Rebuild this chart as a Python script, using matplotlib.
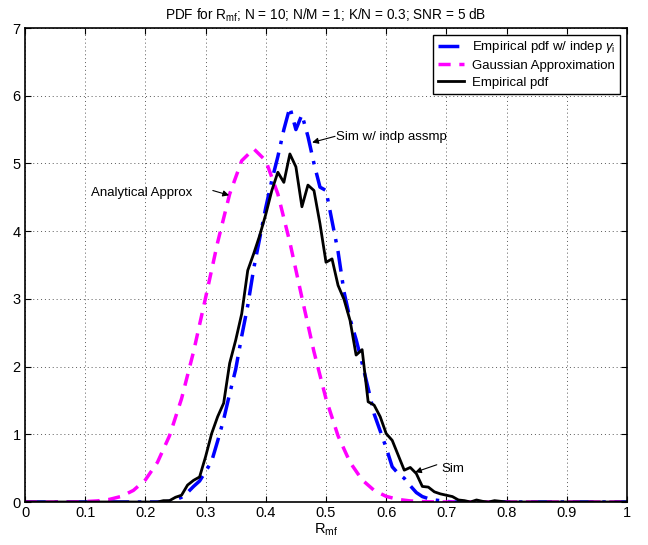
import matplotlib
matplotlib.use("Agg")
import matplotlib.pyplot as plt

plt.rcParams['font.family'] = ['Liberation Sans', 'DejaVu Sans']
plt.rcParams['mathtext.fontset'] = 'custom'
plt.rcParams['mathtext.rm'] = 'Liberation Sans'
plt.rcParams['mathtext.it'] = 'Liberation Sans:italic'

# Empirical pdf w/ indep gamma (blue dash-dot)
x_indep = [0.0, 0.23, 0.24, 0.25, 0.26, 0.27, 0.28, 0.29, 0.30, 0.31, 0.32, 0.33, 0.34, 0.35,
           0.36, 0.37, 0.38, 0.39, 0.40, 0.41, 0.42, 0.43, 0.44, 0.45, 0.46, 0.47, 0.48,
           0.49, 0.50, 0.51, 0.52, 0.53, 0.54, 0.55, 0.56, 0.57, 0.58, 0.59, 0.60, 0.61,
           0.62, 0.63, 0.64, 0.65, 0.66, 0.67, 0.68, 0.69, 0.70, 0.71, 1.0]
y_indep = [0.0, 0.0, 0.01, 0.03, 0.07, 0.14, 0.23, 0.31, 0.45, 0.60, 0.90, 1.22, 1.60, 1.96,
           2.45, 2.90, 3.45, 3.90, 4.35, 4.75, 5.10, 5.50, 5.83, 5.50, 5.72, 5.40, 5.00,
           4.65, 4.60, 4.15, 3.70, 3.10, 2.70, 2.40, 2.05, 1.68, 1.30, 1.05, 0.80, 0.52,
           0.42, 0.35, 0.24, 0.14, 0.08, 0.05, 0.03, 0.02, 0.01, 0.0, 0.0]

# Gaussian approximation (magenta dashed)
x_gauss = [0.0, 0.08, 0.10, 0.12, 0.14, 0.16, 0.18, 0.20, 0.22, 0.24, 0.26, 0.28, 0.30, 0.32,
           0.34, 0.36, 0.38, 0.40, 0.42, 0.44, 0.46, 0.48, 0.50, 0.52, 0.54, 0.56, 0.58,
           0.60, 0.62, 0.64, 0.66, 0.68, 0.70, 1.0]
y_gauss = [0.0, 0.0, 0.006, 0.016, 0.038, 0.083, 0.171, 0.327, 0.585, 0.977, 1.524, 2.22,
           3.018, 3.834, 4.549, 5.04, 5.215, 5.04, 4.549, 3.834, 3.018, 2.22, 1.524, 0.977,
           0.585, 0.327, 0.171, 0.083, 0.038, 0.016, 0.006, 0.002, 0.0, 0.0]

# Empirical pdf (black solid)
x_emp = [0.0, 0.22, 0.23, 0.24, 0.25, 0.26, 0.27, 0.28, 0.29, 0.30, 0.31, 0.32, 0.33, 0.34,
         0.35, 0.36, 0.37, 0.38, 0.39, 0.40, 0.41, 0.42, 0.43, 0.44, 0.45, 0.46, 0.47,
         0.48, 0.49, 0.50, 0.51, 0.52, 0.53, 0.54, 0.55, 0.56, 0.57, 0.58, 0.59, 0.60,
         0.61, 0.62, 0.63, 0.64, 0.65, 0.66, 0.67, 0.68, 0.69, 0.70, 0.71, 0.72, 0.73,
         0.74, 0.75, 0.76, 0.77, 0.78, 0.79, 0.80, 1.0]
y_emp = [0.0, 0.0, 0.02, 0.02, 0.07, 0.10, 0.25, 0.32, 0.37, 0.67, 1.01, 1.26, 1.46, 2.05,
         2.39, 2.78, 3.42, 3.67, 3.94, 4.25, 4.60, 4.87, 4.72, 5.14, 4.95, 4.36, 4.68,
         4.60, 4.11, 3.54, 3.59, 3.20, 2.99, 2.68, 2.17, 2.25, 1.48, 1.43, 1.26, 1.01,
         0.91, 0.69, 0.47, 0.51, 0.42, 0.23, 0.22, 0.15, 0.12, 0.10, 0.08, 0.03, 0.02,
         0.0, 0.03, 0.01, 0.0, 0.02, 0.01, 0.0, 0.0]

labels = [r"Empirical pdf w/ indep $\gamma_\mathrm{i}$", "Gaussian Approximation", "Empirical pdf"]
xticks = [0, 0.1, 0.2, 0.3, 0.4, 0.5, 0.6, 0.7, 0.8, 0.9, 1]
xticklabels = ["0", "0.1", "0.2", "0.3", "0.4", "0.5", "0.6", "0.7", "0.8", "0.9", "1"]
yticks = [0, 1, 2, 3, 4, 5, 6, 7]

# annotations: (text, text position, arrow tail, arrow tip)
notes = [
    ("Sim w/ indp assmp", (0.517, 5.39), (0.515, 5.40), (0.477, 5.31)),
    ("Analytical Approx", (0.110, 4.56), (0.312, 4.60), (0.339, 4.53)),
    ("Sim", (0.691, 0.49), (0.684, 0.55), (0.648, 0.44)),
]

fig = plt.figure(figsize=(6.48, 5.45), dpi=100)
ax = fig.add_axes([25/648, 1-502/545, 602/648, 474/545])

ax.plot(x_indep, y_indep, color='#0000ff', lw=2.5, linestyle=(0, (6, 2.5, 1, 2.5)), label=labels[0])
ax.plot(x_gauss, y_gauss, color='#ff00ff', lw=2.5, linestyle=(0, (3.5, 2.5)), label=labels[1])
ax.plot(x_emp, y_emp, color='black', lw=2.0, label=labels[2])

ax.set_xlim(0, 1)
ax.set_ylim(0, 7)
ax.set_xticks(xticks)
ax.set_xticklabels(xticklabels)
ax.set_yticks(yticks)
ax.tick_params(direction='in', top=True, right=True, labelsize=10.5, length=4, pad=3)
ax.grid(True, linestyle=(0, (1, 3)), color='0.35', lw=0.7)
for s in ax.spines.values():
    s.set_linewidth(1.2)

ax.set_title(r"PDF for R$_{\mathrm{mf}}$; N = 10; N/M = 1; K/N = 0.3; SNR = 5 dB", fontsize=9.8, pad=6)
ax.set_xlabel(r"R$_{\mathrm{mf}}$", fontsize=10.5, labelpad=1)

ap = dict(arrowstyle='-|>', color='black', lw=0.8, mutation_scale=9, shrinkA=0, shrinkB=0)
for txt, tpos, tail, tip in notes:
    ax.text(tpos[0], tpos[1], txt, fontsize=9.5, va='center', ha='left')
    ax.annotate("", xy=tip, xytext=tail, arrowprops=ap)

leg = ax.legend(loc='upper right', fontsize=9.5, fancybox=False, edgecolor='black',
                framealpha=1, borderaxespad=0.5, handlelength=2.0, handletextpad=0.6,
                labelspacing=0.35, borderpad=0.35)
leg.get_frame().set_linewidth(1.0)

fig.savefig("out.png", dpi=100)
